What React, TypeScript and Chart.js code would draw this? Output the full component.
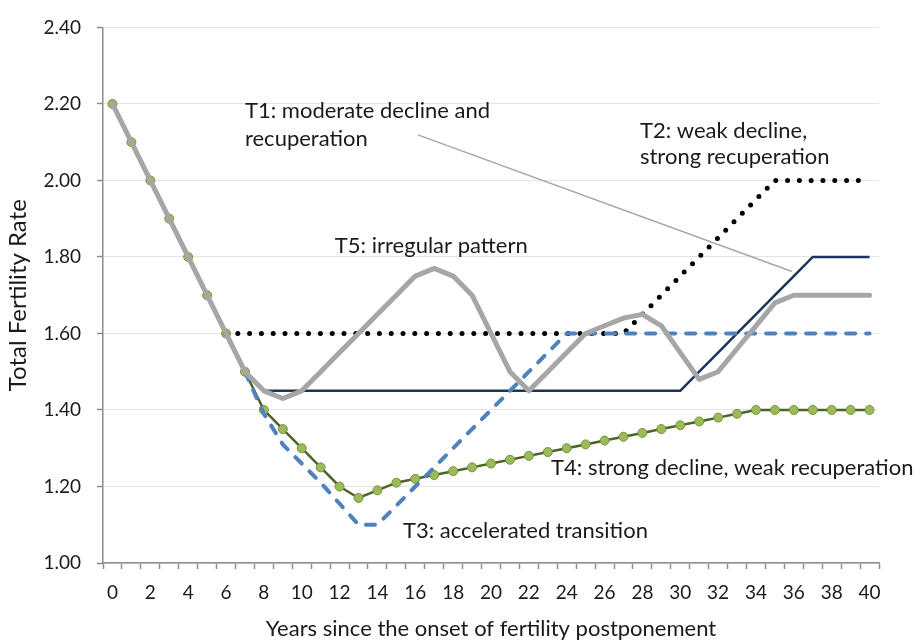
import React, { useEffect, useRef } from 'react';
import { Chart, registerables } from 'chart.js';

Chart.register(...registerables);

const years = ['0','1','2','3','4','5','6','7','8','9','10','11','12','13','14','15','16','17','18','19','20','21','22','23','24','25','26','27','28','29','30','31','32','33','34','35','36','37','38','39','40'];

const yTicks = [1.0, 1.2, 1.4, 1.6, 1.8, 2.0, 2.2, 2.4];

// T1: moderate decline and recuperation
const t1 = [null,null,null,null,null,null,null,1.5,1.45,1.45,1.45,1.45,1.45,1.45,1.45,1.45,1.45,1.45,1.45,1.45,1.45,1.45,1.45,1.45,1.45,1.45,1.45,1.45,1.45,1.45,1.45,1.5,1.55,1.6,1.65,1.7,1.75,1.8,1.8,1.8,1.8];
// T2: weak decline, strong recuperation
const t2 = [null,null,null,null,null,null,1.6,1.6,1.6,1.6,1.6,1.6,1.6,1.6,1.6,1.6,1.6,1.6,1.6,1.6,1.6,1.6,1.6,1.6,1.6,1.6,1.6,1.6,1.65,1.7,1.75,1.8,1.85,1.9,1.95,2.0,2.0,2.0,2.0,2.0,2.0];
// T3: accelerated transition
const t3 = [null,null,null,null,null,null,null,1.5,1.39,1.31,1.26,1.21,1.155,1.1,1.1,1.15,1.2,1.25,1.3,1.35,1.4,1.45,1.5,1.55,1.6,1.6,1.6,1.6,1.6,1.6,1.6,1.6,1.6,1.6,1.6,1.6,1.6,1.6,1.6,1.6,1.6];
// T4: strong decline, weak recuperation
const t4 = [2.2,2.1,2.0,1.9,1.8,1.7,1.6,1.5,1.4,1.35,1.3,1.25,1.2,1.17,1.19,1.21,1.22,1.23,1.24,1.25,1.26,1.27,1.28,1.29,1.3,1.31,1.32,1.33,1.34,1.35,1.36,1.37,1.38,1.39,1.4,1.4,1.4,1.4,1.4,1.4,1.4];
// T5: irregular pattern
const t5 = [2.2,2.1,2.0,1.9,1.8,1.7,1.6,1.5,1.45,1.43,1.45,1.5,1.55,1.6,1.65,1.7,1.75,1.77,1.75,1.7,1.6,1.5,1.45,1.5,1.55,1.6,1.62,1.64,1.65,1.62,1.55,1.48,1.5,1.56,1.62,1.68,1.7,1.7,1.7,1.7,1.7];

const noteTexts = [
  'T1: moderate decline and',
  'recuperation',
  'T2: weak decline,',
  'strong recuperation',
  'T5: irregular pattern',
  'T4: strong decline, weak recuperation',
  'T3: accelerated transition',
];
// anchor (left, vertical middle) of each note, in data units
const noteX = [7.0, 7.0, 27.87, 27.87, 11.75, 23.17, 15.35];
const noteY = [2.183, 2.108, 2.129, 2.062, 1.829, 1.248, 1.085];
// leader line for T1, in data units
const leaderX = [16.14, 35.9];
const leaderY = [2.119, 1.762];

const TEXT = '#1a1a1a';
const AXIS = '#8c8c8c';
const FONT = 'Lato, "Open Sans", sans-serif';

const notesPlugin = {
  id: 'notes',
  beforeDatasetsDraw(chart: any) {
    const { ctx, scales } = chart;
    const xs = scales.x, ys = scales.y;
    ctx.save();
    ctx.strokeStyle = '#a6a6a6';
    ctx.lineWidth = 1.5;
    ctx.beginPath();
    ctx.moveTo(xs.getPixelForValue(leaderX[0]), ys.getPixelForValue(leaderY[0]));
    ctx.lineTo(xs.getPixelForValue(leaderX[1]), ys.getPixelForValue(leaderY[1]));
    ctx.stroke();
    ctx.restore();
  },
  afterDatasetsDraw(chart: any) {
    const { ctx, scales } = chart;
    const xs = scales.x, ys = scales.y;
    ctx.save();
    ctx.fillStyle = TEXT;
    ctx.font = '22px ' + FONT;
    ctx.textAlign = 'left';
    ctx.textBaseline = 'middle';
    noteTexts.forEach((t, i) => {
      ctx.fillText(t, xs.getPixelForValue(noteX[i]), ys.getPixelForValue(noteY[i]));
    });
    ctx.restore();
  },
};

export default function App() {
  const ref = useRef<HTMLCanvasElement | null>(null);
  useEffect(() => {
    if (!ref.current) return;
    const chart = new Chart(ref.current, {
      type: 'line',
      data: {
        labels: years,
        datasets: [
          {
            label: 'T5', data: t5, borderColor: '#a6a6a6', borderWidth: 5,
            pointRadius: 0, borderJoinStyle: 'round', borderCapStyle: 'round', order: 0,
          },
          {
            label: 'T3', data: t3, borderColor: '#4f81bd', borderWidth: 4,
            borderDash: [9, 11], borderCapStyle: 'round', pointRadius: 0, order: 1,
          },
          {
            label: 'T1', data: t1, borderColor: '#1b3558', borderWidth: 2.5,
            pointRadius: 0, order: 2,
          },
          {
            label: 'T2', data: t2, borderColor: '#000000', borderWidth: 5,
            borderDash: [0, 11.8], borderCapStyle: 'round', pointRadius: 0, order: 3,
          },
          {
            label: 'T4', data: t4, borderColor: '#4f6228', borderWidth: 2.5,
            pointRadius: 4.5, pointBackgroundColor: '#9bbb59', pointBorderColor: '#77933c',
            pointBorderWidth: 1, order: 4,
          },
        ],
      },
      options: {
        responsive: false,
        animation: false,
        devicePixelRatio: 1,
        spanGaps: false,
        layout: { padding: { top: 21, right: 42, bottom: 0, left: 0 } },
        plugins: { legend: { display: false }, tooltip: { enabled: false } },
        scales: {
          x: {
            type: 'category',
            offset: true,
            grid: { offset: true, drawOnChartArea: false, drawTicks: true, tickLength: 6, tickColor: AXIS, tickWidth: 1.5 },
            border: { color: AXIS, width: 1.5 },
            ticks: {
              autoSkip: false, maxRotation: 0, minRotation: 0, padding: 12, color: TEXT,
              font: { family: FONT, size: 19 },
              callback: (_v: any, i: number) => (i % 2 === 0 ? years[i] : ''),
            },
            title: {
              display: true, text: 'Years since the onset of fertility postponement', color: TEXT,
              font: { family: FONT, size: 22 }, padding: { top: 0, bottom: 1 },
            },
            afterFit: (s: any) => { s.height = 80; },
          },
          y: {
            min: 1.0, max: 2.4,
            afterBuildTicks: (s: any) => { s.ticks = yTicks.map((v) => ({ value: v })); },
            grid: { color: '#e4e4e4', lineWidth: 1, tickColor: AXIS, tickLength: 6, tickWidth: 1.5 },
            border: { color: AXIS, width: 1.5 },
            ticks: {
              padding: 16, color: TEXT, font: { family: FONT, size: 19 },
              callback: (v: any) => Number(v).toFixed(2),
            },
            title: {
              display: true, text: 'Total Fertility Rate', color: TEXT,
              font: { family: FONT, size: 24 }, padding: { top: 4, bottom: 0 },
            },
            afterFit: (s: any) => { s.width = 103; },
          },
        },
      },
      plugins: [notesPlugin],
    } as any);
    return () => chart.destroy();
  }, []);
  return (
    <div style={{ position: 'fixed', left: 0, top: 0, width: 921, height: 643, background: '#fff' }}>
      <canvas ref={ref} width={921} height={643} />
    </div>
  );
}
